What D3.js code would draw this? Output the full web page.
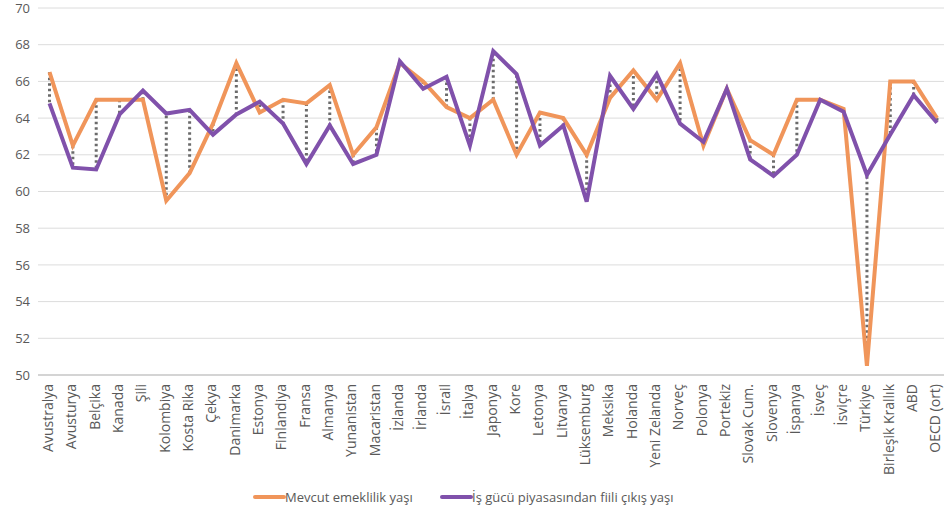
<!DOCTYPE html>
<html>
<head>
<meta charset="utf-8">
<script src="https://cdn.jsdelivr.net/npm/d3@7"></script>
<style>
  body { margin: 0; background: #fff; }
  text { font-family: "Open Sans", "Noto Sans", sans-serif; }
</style>
</head>
<body>
<script>
var countries = ["Avustralya", "Avusturya", "Belçika", "Kanada", "Şili", "Kolombiya", "Kosta Rika", "Çekya",
    "Danimarka", "Estonya", "Finlandiya", "Fransa", "Almanya", "Yunanistan", "Macaristan", "İzlanda",
    "İrlanda", "İsrail", "İtalya", "Japonya", "Kore", "Letonya", "Litvanya", "Lüksemburg", "Meksika",
    "Holanda", "Yeni Zelanda", "Norveç", "Polonya", "Portekiz", "Slovak Cum.", "Slovenya", "İspanya",
    "İsveç", "İsviçre", "Türkiye", "Birleşik Krallık", "ABD", "OECD (ort)"];

var emeklilik = [66.5, 62.5, 65.0, 65.0, 65.0, 59.5, 61.0, 63.7, 67.0, 64.3, 65.0, 64.8, 65.8, 62.0, 63.5, 67.0,
    66.0, 64.6, 64.0, 65.0, 62.0, 64.3, 64.0, 62.0, 65.1, 66.6, 65.0, 67.0, 62.5, 65.6, 62.8, 62.0, 65.0,
    65.0, 64.5, 50.5, 66.0, 66.0, 64.0];

var fiiliCikis = [64.8, 61.3, 61.2, 64.2, 65.5, 64.25, 64.45, 63.1, 64.2, 64.9, 63.7, 61.5, 63.6, 61.5, 62.0, 67.1,
    65.6, 66.25, 62.5, 67.65, 66.4, 62.5, 63.6, 59.45, 66.3, 64.5, 66.4, 63.7, 62.7, 65.6, 61.75, 60.85, 62.0,
    65.0, 64.35, 60.9, 63.1, 65.25, 63.75];

var yTicks = [50, 52, 54, 56, 58, 60, 62, 64, 66, 68, 70];

var seriesNames = ["Mevcut emeklilik yaşı", "İş gücü piyasasından fiili çıkış yaşı"];

var w = 944, h = 511;
var orange = "#f0955a", purple = "#8051ab";

var svg = d3.select("body").append("svg")
    .attr("width", w)
    .attr("height", h);

var x = d3.scalePoint()
    .domain(countries)
    .range([49.5, 937]);

var y = d3.scaleLinear()
    .domain([50, 70])
    .range([375, 8]);

// grid lines
svg.append("g")
    .selectAll("line")
    .data(yTicks)
    .enter().append("line")
    .attr("x1", 38)
    .attr("x2", w)
    .attr("y1", function(d) { return y(d); })
    .attr("y2", function(d) { return y(d); })
    .attr("stroke", function(d) { return d == 50 ? "#d4d4d4" : "#dcdcdc"; })
    .attr("stroke-width", function(d) { return d == 50 ? 2 : 1; });

// y axis labels
var yAxis = svg.append("g")
    .attr("transform", "translate(30,0)")
    .call(d3.axisLeft(y).tickValues(yTicks).tickSize(0).tickPadding(0));
yAxis.select(".domain").remove();
yAxis.selectAll("text")
    .attr("fill", "#595959")
    .style("font-size", "13px");

// x axis labels
var xAxis = svg.append("g")
    .attr("transform", "translate(0,384)")
    .call(d3.axisBottom(x).tickSize(0).tickPadding(0));
xAxis.select(".domain").remove();
xAxis.selectAll("text")
    .attr("fill", "#595959")
    .style("font-size", "14px")
    .attr("text-anchor", "end")
    .attr("dy", "0.2em")
    .attr("transform", "rotate(-90)")
    .attr("x", 0)
    .attr("y", 0);

// dotted connectors
svg.append("g")
    .selectAll("line")
    .data(countries)
    .enter().append("line")
    .attr("x1", function(d) { return x(d); })
    .attr("x2", function(d) { return x(d); })
    .attr("y1", function(d, i) { return y(emeklilik[i]); })
    .attr("y2", function(d, i) { return y(fiiliCikis[i]); })
    .attr("stroke", "#6b6b6b")
    .attr("stroke-width", 3)
    .attr("stroke-dasharray", "2.5,3");

var line = d3.line()
    .x(function(d, i) { return x(countries[i]); })
    .y(function(d) { return y(d); });

svg.append("path")
    .datum(emeklilik)
    .attr("d", line)
    .attr("fill", "none")
    .attr("stroke", orange)
    .attr("stroke-width", 4)
    .attr("stroke-linejoin", "miter");

svg.append("path")
    .datum(fiiliCikis)
    .attr("d", line)
    .attr("fill", "none")
    .attr("stroke", purple)
    .attr("stroke-width", 4)
    .attr("stroke-linejoin", "miter");

// legend
var legend = svg.append("g");
var legendX = [255, 442];
var colors = [orange, purple];
seriesNames.forEach(function(name, i) {
    legend.append("line")
        .attr("x1", legendX[i])
        .attr("x2", legendX[i] + 29)
        .attr("y1", 497)
        .attr("y2", 497)
        .attr("stroke", colors[i])
        .attr("stroke-width", 4)
        .attr("stroke-linecap", "round");
    legend.append("text")
        .attr("x", legendX[i] + 30)
        .attr("y", 497)
        .attr("dy", "0.35em")
        .attr("fill", "#595959")
        .style("font-size", "13px")
        .text(name);
});
</script>
</body>
</html>
